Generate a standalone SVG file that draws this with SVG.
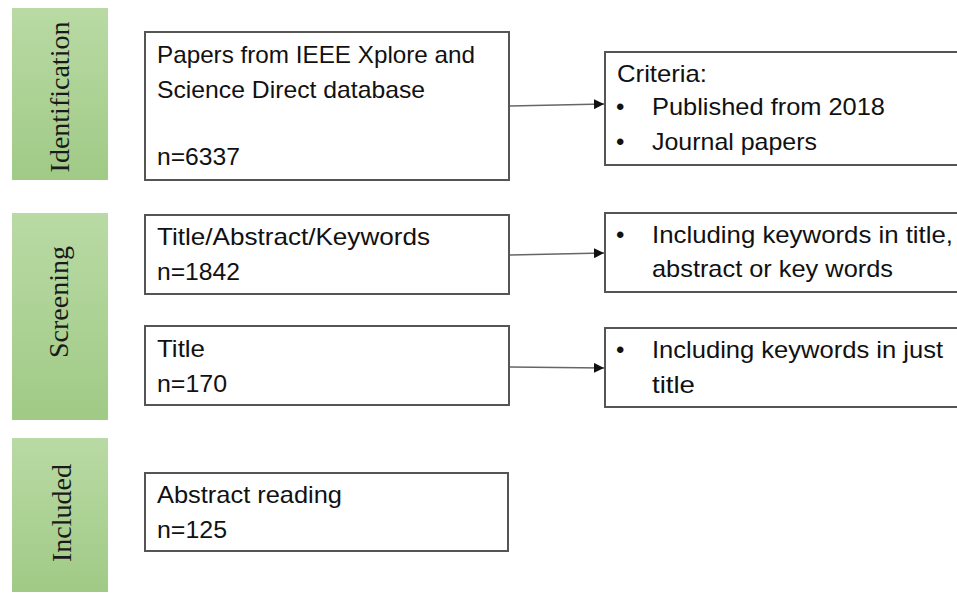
<svg xmlns="http://www.w3.org/2000/svg" width="957" height="595" viewBox="0 0 957 595">
<defs>
<linearGradient id="g" x1="0" y1="0" x2="0" y2="1">
<stop offset="0" stop-color="#b9daa4"/>
<stop offset="1" stop-color="#a0ca86"/>
</linearGradient>
<marker id="ah" viewBox="0 0 10 10" refX="10" refY="5" markerWidth="10" markerHeight="10" markerUnits="userSpaceOnUse" orient="auto">
<path d="M0,0 L10,5 L0,10 z" fill="#111"/>
</marker>
<style>
.stage{fill:url(#g);}
.stxt{font-family:"Liberation Serif","Times New Roman",serif;font-size:28px;fill:#1a1a1a;text-anchor:middle;}
.box{fill:#fff;stroke:#555;stroke-width:2;}
.t{font-family:"Liberation Sans",Arial,sans-serif;font-size:24px;fill:#111;}
.con{stroke:#666;stroke-width:1.5;fill:none;}
</style>
</defs>
<rect width="957" height="595" fill="#fff"/>

<g id="stage-identification">
<rect class="stage" x="12" y="8" width="96" height="172"/>
<text class="stxt" transform="translate(69,97) rotate(-90)">Identification</text>
</g>
<g id="stage-screening">
<rect class="stage" x="12" y="213" width="96" height="207"/>
<text class="stxt" transform="translate(68,302) rotate(-90)">Screening</text>
</g>
<g id="stage-included">
<rect class="stage" x="12" y="438" width="96" height="154"/>
<text class="stxt" transform="translate(71,513) rotate(-90)">Included</text>
</g>

<g id="node-papers">
<rect class="box" x="145" y="32" width="364" height="148"/>
<text class="t" x="157" y="63" textLength="318" lengthAdjust="spacingAndGlyphs">Papers from IEEE Xplore and</text>
<text class="t" x="157" y="98" textLength="268" lengthAdjust="spacingAndGlyphs">Science Direct database</text>
<text class="t" x="157" y="165" textLength="83" lengthAdjust="spacingAndGlyphs">n=6337</text>
</g>
<g id="node-criteria">
<rect class="box" x="605" y="52" width="360" height="113"/>
<text class="t" x="617" y="82" textLength="90" lengthAdjust="spacingAndGlyphs">Criteria:</text>
<text class="t" x="616" y="115">•</text>
<text class="t" x="652" y="115" textLength="233" lengthAdjust="spacingAndGlyphs">Published from 2018</text>
<text class="t" x="616" y="150">•</text>
<text class="t" x="652" y="150" textLength="165" lengthAdjust="spacingAndGlyphs">Journal papers</text>
</g>
<g id="node-tak">
<rect class="box" x="145" y="215" width="364" height="79"/>
<text class="t" x="157" y="245" textLength="273" lengthAdjust="spacingAndGlyphs">Title/Abstract/Keywords</text>
<text class="t" x="157" y="280" textLength="83" lengthAdjust="spacingAndGlyphs">n=1842</text>
</g>
<g id="node-kw-all">
<rect class="box" x="605" y="213" width="360" height="79"/>
<text class="t" x="616" y="243">•</text>
<text class="t" x="652" y="243" textLength="301" lengthAdjust="spacingAndGlyphs">Including keywords in title,</text>
<text class="t" x="652" y="277" textLength="241" lengthAdjust="spacingAndGlyphs">abstract or key words</text>
</g>
<g id="node-title">
<rect class="box" x="145" y="326" width="364" height="79"/>
<text class="t" x="157" y="357" textLength="48" lengthAdjust="spacingAndGlyphs">Title</text>
<text class="t" x="157" y="392" textLength="70" lengthAdjust="spacingAndGlyphs">n=170</text>
</g>
<g id="node-kw-title">
<rect class="box" x="605" y="328" width="360" height="79"/>
<text class="t" x="616" y="358">•</text>
<text class="t" x="652" y="358" textLength="291" lengthAdjust="spacingAndGlyphs">Including keywords in just</text>
<text class="t" x="652" y="393" textLength="43" lengthAdjust="spacingAndGlyphs">title</text>
</g>
<g id="node-abstract">
<rect class="box" x="145" y="473" width="363" height="78"/>
<text class="t" x="157" y="503" textLength="185" lengthAdjust="spacingAndGlyphs">Abstract reading</text>
<text class="t" x="157" y="538" textLength="70" lengthAdjust="spacingAndGlyphs">n=125</text>
</g>

<g id="connectors">
<path class="con" d="M510,106 L604,104" marker-end="url(#ah)"/>
<path class="con" d="M510,255 L604,253" marker-end="url(#ah)"/>
<path class="con" d="M510,367 L604,368" marker-end="url(#ah)"/>
</g>
</svg>
